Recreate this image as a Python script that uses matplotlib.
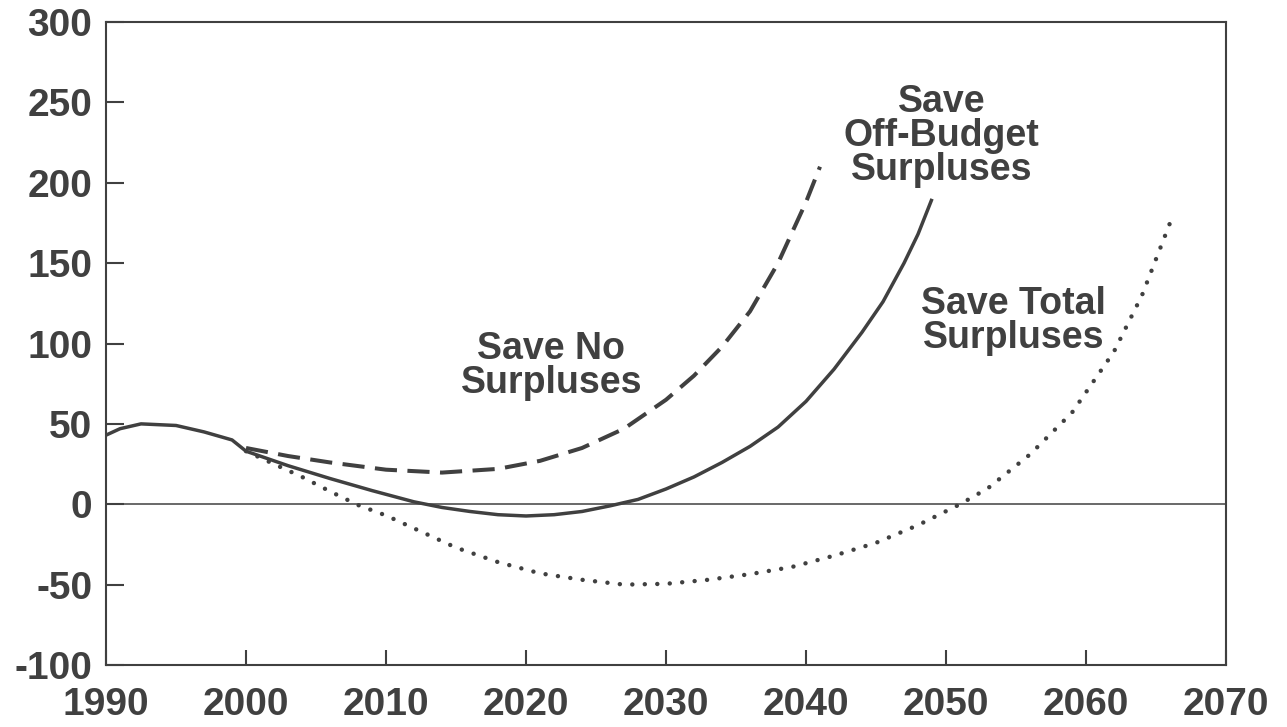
import matplotlib
matplotlib.use('Agg')
import matplotlib.pyplot as plt

plt.rcParams['font.family'] = ['Liberation Sans', 'DejaVu Sans']
plt.rcParams['font.weight'] = 'bold'
plt.rcParams['axes.unicode_minus'] = False

INK = '#404040'

# history + "Save Off-Budget Surpluses" (solid)
off_years = [1990, 1991, 1992.5, 1995, 1997, 1999, 2000, 2003, 2006, 2009, 2012, 2014, 2016,
             2018, 2020, 2022, 2024, 2026, 2028, 2030, 2032, 2034, 2036, 2038, 2040, 2042,
             2044, 2045.5, 2047, 2048, 2049]
off_vals = [43, 47, 50, 49, 45, 40, 33, 24, 16, 8.5, 1.5, -2, -4.5, -6.5, -7.3, -6.5, -4.5,
            -1, 3, 9.5, 17, 26, 36, 48, 64, 84, 107, 126, 150, 168, 190]

# "Save No Surpluses" (dashed)
no_years = [2000, 2003, 2006, 2010, 2014, 2018, 2021, 2024, 2027, 2030, 2032, 2034, 2036,
            2038, 2040, 2041]
no_vals = [35, 30, 26, 21.5, 19.7, 22, 27, 35, 47, 65, 80, 98, 120, 150, 188, 210]

# "Save Total Surpluses" (dotted)
tot_years = [2000, 2002, 2004, 2006, 2008, 2010, 2012, 2015, 2018, 2021, 2024, 2027, 2030,
             2033, 2036, 2039, 2042, 2045, 2048, 2051, 2053, 2056, 2059, 2062, 2064, 2066]
tot_vals = [33, 25, 17, 8, -0.5, -7, -15, -27, -36, -43, -47, -50, -49.5, -47, -43.5, -39,
            -32, -24, -13, 0, 10, 31, 57, 95, 130, 175]

x_ticks = [1990, 2000, 2010, 2020, 2030, 2040, 2050, 2060, 2070]
y_ticks = [-100, -50, 0, 50, 100, 150, 200, 250, 300]

fig = plt.figure(figsize=(12.87, 7.27), dpi=100)
ax = fig.add_axes([0.0824, 0.0853, 0.8702, 0.8844])

ax.axhline(0, color=INK, linewidth=1.1, zorder=1)

ax.plot(off_years, off_vals, '-', color=INK, linewidth=2.5, solid_capstyle='butt', zorder=3)
ax.plot(no_years, no_vals, color=INK, linewidth=2.9, dashes=(5.5, 2.6),
        dash_capstyle='butt', zorder=3)
ax.plot(tot_years, tot_vals, color=INK, linewidth=3.2, linestyle=(0, (0.01, 2.8)),
        dash_capstyle='round', zorder=3)

ax.set_xlim(1990, 2070)
ax.set_ylim(-100, 300)
ax.set_xticks(x_ticks)
ax.set_yticks(y_ticks)
ax.tick_params(axis='x', direction='in', length=11, width=1.5, color=INK,
               labelsize=28, labelcolor=INK, pad=16)
ax.tick_params(axis='y', direction='in', length=13, width=1.5, color=INK,
               labelsize=28, labelcolor=INK, pad=10)
for lab in ax.get_xticklabels() + ax.get_yticklabels():
    lab.set_fontweight('bold')
for s in ax.spines.values():
    s.set_color(INK)
    s.set_linewidth(1.5)

txt = dict(color=INK, fontsize=27, fontweight='bold', ha='center', va='center',
           linespacing=0.92)
ax.text(2021.8, 86, 'Save No\nSurpluses', **txt)
ax.text(2049.7, 229, 'Save\nOff-Budget\nSurpluses', **txt)
ax.text(2054.8, 114, 'Save Total\nSurpluses', **txt)

fig.savefig('out.png', dpi=100)
